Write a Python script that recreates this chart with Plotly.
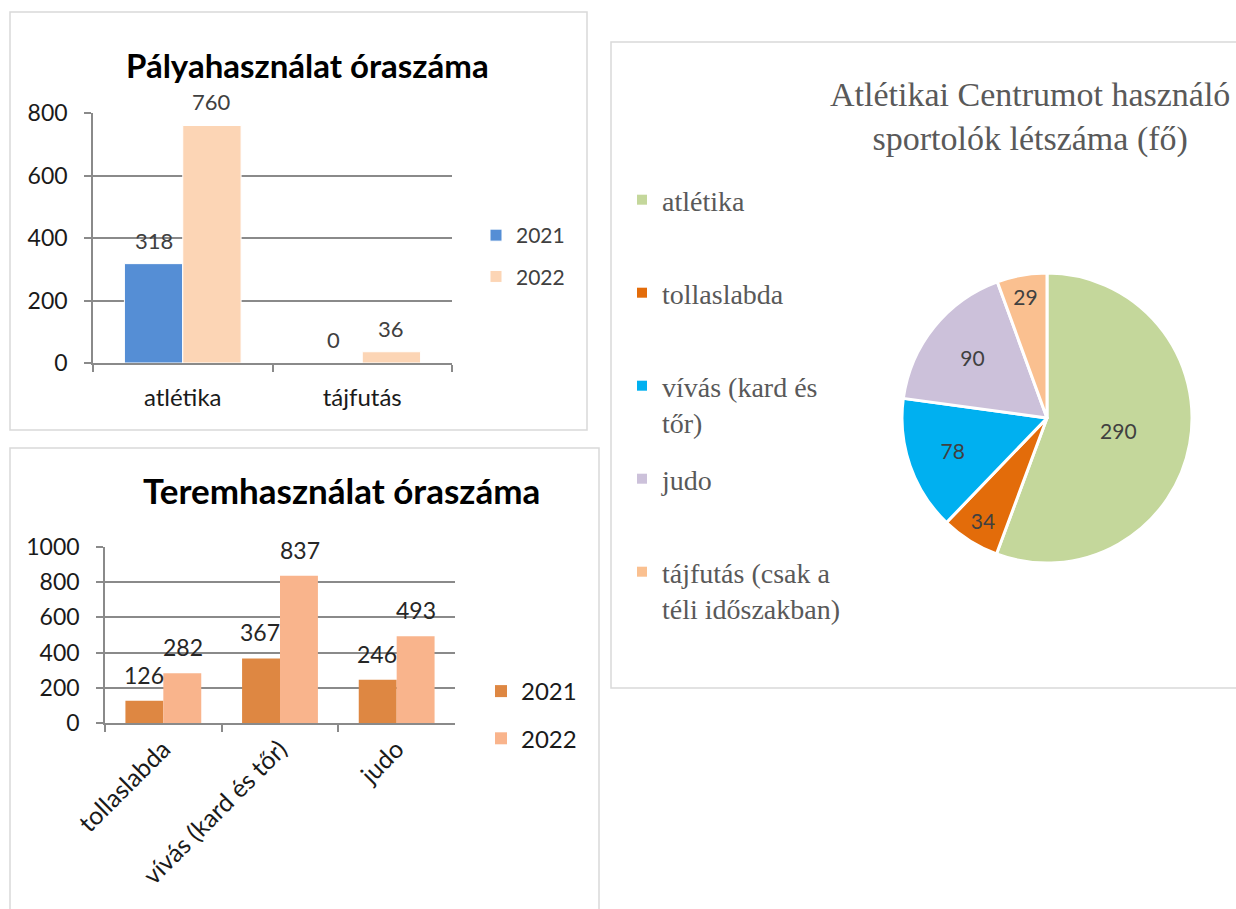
import plotly.graph_objects as go

# ---------------- data ----------------
palya_categories = ["atlétika", "tájfutás"]
palya_2021 = [318, 0]
palya_2022 = [760, 36]

terem_categories = ["tollaslabda", "vívás (kard és tőr)", "judo"]
terem_2021 = [126, 367, 246]
terem_2022 = [282, 837, 493]

pie_labels = ["atlétika", "tollaslabda", "vívás (kard és tőr)", "judo", "tájfutás (csak a téli időszakban)"]
pie_legend_text = ["atlétika", "tollaslabda", "vívás (kard és<br>tőr)", "judo", "tájfutás (csak a<br>téli időszakban)"]
pie_values = [290, 34, 78, 90, 29]

series_names = ["2021", "2022"]

# ---------------- styling ----------------
W, H = 1236, 909
def px(x): return x / W
def py(y): return 1 - y / H

FONT = "Lato"
SERIF = "Liberation Serif"
GRID = "#8a8a8a"
LBL = "#404040"

c1 = ["#558ED5", "#FCD5B5"]
c2 = ["#DE8742", "#F9B48C"]
pie_colors = ["#C4D79B", "#E36C0A", "#00B0F0", "#CCC1DA", "#FAC090"]

BARGAP1 = 0.35
BARGAP2 = 0.33

fig = go.Figure()

for j, (name, vals) in enumerate(zip(series_names, [palya_2021, palya_2022])):
    fig.add_trace(go.Bar(x=palya_categories, y=vals, name=name, marker=dict(color=c1[j], line=dict(color="white", width=1)),
                         xaxis="x", yaxis="y", legend="legend", legendgroup="p" + name))
for j, (name, vals) in enumerate(zip(series_names, [terem_2021, terem_2022])):
    fig.add_trace(go.Bar(x=terem_categories, y=vals, name=name, marker=dict(color=c2[j], line=dict(width=0)),
                         xaxis="x2", yaxis="y2", legend="legend2", legendgroup="t" + name))

fig.add_trace(go.Pie(labels=pie_labels, values=pie_values, sort=False, direction="clockwise", rotation=0,
                     marker=dict(colors=pie_colors, line=dict(color="white", width=3)),
                     textinfo="value", textposition="inside", insidetextorientation="horizontal",
                     textfont=dict(family=FONT, size=21, color=LBL),
                     domain=dict(x=[px(902), px(1192)], y=[py(563), py(273)]), showlegend=False))

# legend entries for the pie (one legend each, for Excel-like spacing)
pie_leg_y = [203, 296, 389, 482, 575]
for k, (txt, col) in enumerate(zip(pie_legend_text, pie_colors)):
    fig.add_trace(go.Scatter(x=[None], y=[None], mode="markers", name=txt,
                             marker=dict(symbol="square", size=10, color=col),
                             xaxis="x", yaxis="y", legend="legend%d" % (k + 3), showlegend=True))

annotations = []
# data labels
for j, vals in enumerate([palya_2021, palya_2022]):
    off = (-1 if j == 0 else 1) * (1 - BARGAP1) / 4
    for i, v in enumerate(vals):
        annotations.append(dict(x=i + off, y=v, xref="x", yref="y", text=str(v), showarrow=False,
                                xanchor="center", yanchor="bottom", yshift=9, borderpad=0,
                                font=dict(family=FONT, size=22, color=LBL)))
for j, vals in enumerate([terem_2021, terem_2022]):
    off = (-1 if j == 0 else 1) * (1 - BARGAP2) / 4
    for i, v in enumerate(vals):
        annotations.append(dict(x=i + off, y=v, xref="x2", yref="y2", text=str(v), showarrow=False,
                                xanchor="center", yanchor="bottom", yshift=11, borderpad=0,
                                font=dict(family=FONT, size=23, color="#262626")))

annotations += [
    dict(x=px(307), y=py(65), xref="paper", yref="paper", text="<b>Pályahasználat óraszáma</b>", showarrow=False,
         xanchor="center", yanchor="middle", borderpad=0, font=dict(family=FONT, size=33, color="black")),
    dict(x=px(341), y=py(490), xref="paper", yref="paper", text="<b>Teremhasználat óraszáma</b>", showarrow=False,
         xanchor="center", yanchor="middle", borderpad=0, font=dict(family=FONT, size=35, color="black")),
    dict(x=px(1030), y=py(117), xref="paper", yref="paper",
         text="Atlétikai Centrumot használó<br>sportolók létszáma (fő)", showarrow=False,
         xanchor="center", yanchor="middle", borderpad=0, font=dict(family=SERIF, size=34, color="#595959")),
]

shapes = [
    dict(type="rect", xref="paper", yref="paper", x0=px(10), x1=px(587), y0=py(430), y1=py(12),
         line=dict(color="#D9D9D9", width=1.5)),
    dict(type="rect", xref="paper", yref="paper", x0=px(10), x1=px(599), y0=py(920), y1=py(448),
         line=dict(color="#D9D9D9", width=1.5)),
    dict(type="rect", xref="paper", yref="paper", x0=px(611), x1=px(1250), y0=py(688), y1=py(42),
         line=dict(color="#D9D9D9", width=1.5)),
]

axis_common = dict(showline=True, linecolor=GRID, linewidth=1.5, ticks="outside", tickcolor=GRID, ticklen=7,
                   tickwidth=1.5, zeroline=False, fixedrange=True, automargin=False)

legends = dict(
    legend=dict(x=px(476), y=py(215), xanchor="left", yanchor="top", font=dict(family=FONT, size=21, color=LBL),
                tracegroupgap=11, bgcolor="rgba(0,0,0,0)", traceorder="grouped"),
    legend2=dict(x=px(481), y=py(669), xanchor="left", yanchor="top", font=dict(family=FONT, size=24, color="#1a1a1a"),
                 tracegroupgap=13, bgcolor="rgba(0,0,0,0)", traceorder="grouped"),
)
for k, yy in enumerate(pie_leg_y):
    legends["legend%d" % (k + 3)] = dict(x=px(622), y=py(yy - 28), xanchor="left", yanchor="top", valign="top",
                                          font=dict(family=SERIF, size=28, color="#595959"),
                                          bgcolor="rgba(0,0,0,0)")

fig.update_layout(
    template="none",
    width=W, height=H, margin=dict(l=0, r=0, t=0, b=0, pad=0), paper_bgcolor="white", plot_bgcolor="white",
    barmode="group", bargap=BARGAP1, bargroupgap=0,
    xaxis=dict(domain=[px(93), px(452)], anchor="y", type="category", tickson="boundaries", showgrid=False,
               ticklabelstandoff=12, tickfont=dict(family=FONT, size=24, color="#1a1a1a"), **axis_common),
    yaxis=dict(domain=[py(363), py(113)], anchor="x", range=[0, 800], dtick=200, showgrid=True, gridcolor=GRID,
               gridwidth=1.5, ticklabelstandoff=12, tickfont=dict(family=FONT, size=23, color="#1a1a1a"),
               **axis_common),
    xaxis2=dict(domain=[px(105), px(455)], anchor="y2", type="category", tickson="boundaries", showgrid=False,
                tickangle=-45, tickfont=dict(family=FONT, size=25, color="#1a1a1a"), **axis_common),
    yaxis2=dict(domain=[py(723), py(547)], anchor="x2", range=[0, 1000], dtick=200, showgrid=True, gridcolor=GRID,
                gridwidth=1.5, ticklabelstandoff=12, tickfont=dict(family=FONT, size=23, color="#1a1a1a"),
                **axis_common),
    annotations=annotations, shapes=shapes, showlegend=True,
    **legends,
)

fig.write_html("out.html", config={"displayModeBar": False},
               post_script="document.body.style.margin='0';document.body.style.overflow='hidden';")
